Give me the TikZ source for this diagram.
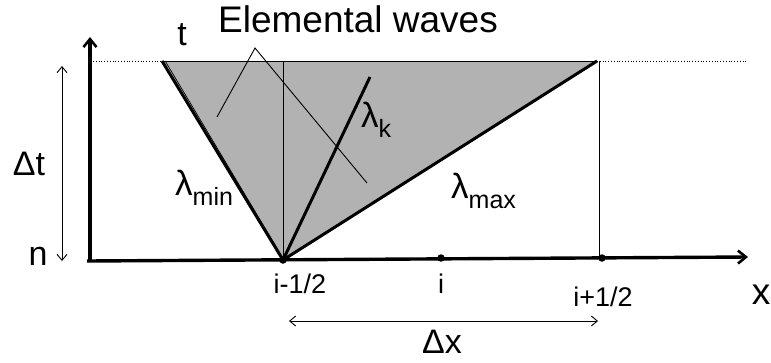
\documentclass[tikz,border=0pt]{standalone}
\usepackage{fontspec}
\setmainfont{Liberation Sans}
\usetikzlibrary{arrows.meta,calc}
\begin{document}
\begin{tikzpicture}[x=1pt,y=-1pt,
  axis/.style={line width=3.4pt,-{Straight Barb[length=8pt,width=13pt,line width=2.6pt]}},
  thinarrow/.style={line width=0.9pt,{Straight Barb[length=6pt,width=10pt]}-{Straight Barb[length=6pt,width=10pt]}},
  wave/.style={line width=3pt},
  pointer/.style={line width=0.9pt},
  lbl/.style={inner sep=0pt,anchor=base,font=\fontsize{34}{38}\selectfont},
  lam/.style={inner sep=0pt,anchor=base west,font=\fontsize{35}{38}\selectfont},
  small/.style={inner sep=0pt,anchor=base,font=\fontsize{27}{30}\selectfont},
  dot/.style={circle,fill=black,inner sep=0pt,minimum size=7.5pt}]
\newcommand{\lsub}[1]{\raisebox{-10pt}{\fontsize{25}{28}\selectfont #1}}
\useasboundingbox (0,0) rectangle (771,362);
\coordinate (tl) at (162,61);
\coordinate (apex) at (283,260);
\coordinate (mtop) at (283,61);
\coordinate (tr) at (597,61);
\coordinate (rb) at (599,258);
\coordinate (rt) at (599,61);
\coordinate (ktop) at (370,77);
% shaded fan
\fill[fill=black!30] (tl) -- (apex) -- (tr) -- cycle;
\draw[line width=0.8pt] (tl) -- (tr);
\draw[line width=0.7pt] (mtop) -- (apex);
\draw[line width=0.9pt] (rt) -- (rb);
% dotted top level
\coordinate (dl) at (93,61);
\coordinate (dr) at (748,61);
\draw[dotted,line width=0.8pt] (dl) -- (tl);
\draw[dotted,line width=0.8pt] (tr) -- (dr);
% waves
\draw[wave] (tl) -- (apex);
\draw[line width=0.7pt] ($(tl)+(3.2,0)$) -- ($(apex)+(1,0)$);
\draw[wave] (apex) -- (tr);
\draw[wave] (apex) -- (ktop);
% axes
\coordinate (xs) at (87,261);
\coordinate (xe) at (748,257);
\coordinate (ys) at (90,262);
\coordinate (ye) at (90,37);
\draw[axis] (ys) -- (ye);
\draw[axis] (xs) -- (xe);
% dots
\node[dot] (d1) at (283,260) {};
\node[dot] (d2) at (441,258) {};
\node[dot] (d3) at (602,258) {};
% Delta t arrow
\coordinate (at1) at (62,66);
\coordinate (at2) at (62,261);
\draw[thinarrow] (at1) -- (at2);
% Delta x arrow
\coordinate (ax1) at (289,321);
\coordinate (ax2) at (598,321);
\draw[thinarrow] (ax1) -- (ax2);
% labels
\node[lbl,font=\fontsize{37}{40}\selectfont] (ew) at (358,32) {Elemental waves};
\node[lbl] (t) at (182,45) {t};
\node[lbl] (dt) at (29,175) {Δt};
\node[lbl] (n) at (38,265) {n};
\node[lbl,font=\fontsize{37}{40}\selectfont] (x) at (761,304) {x};
\node[lbl] (dx) at (442,353) {Δx};
\node[lam] (lmin) at (175,195) {λ\lsub{min}};
\node[lam] (lk) at (361,127) {λ\lsub{k}};
\node[lam] (lmax) at (451,198) {λ\lsub{max}};
\node[small] (im) at (300,293) {i-1/2};
\node[small] (i) at (441,293) {i};
\node[small] (ip) at (603,306) {i+1/2};
% pointers from the label
\coordinate (pp) at (255,48);
\coordinate (p1) at (217,117);
\coordinate (p2) at (367,183);
\draw[pointer] (p1) -- (pp) -- (p2);
\end{tikzpicture}
\end{document}
